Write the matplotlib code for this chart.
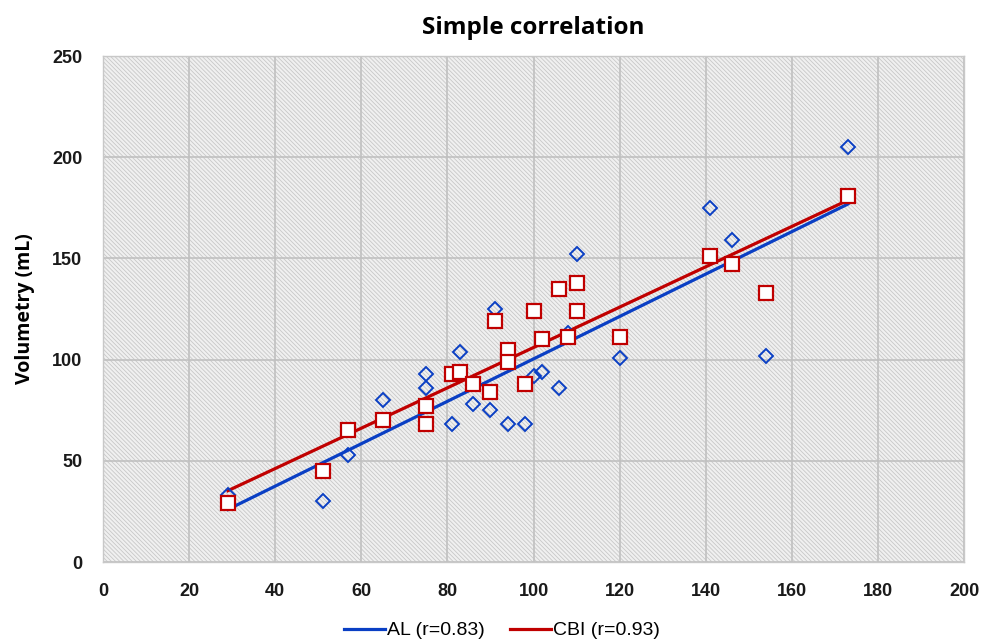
import matplotlib.pyplot as plt
from matplotlib.patches import Rectangle
import numpy as np

# Data
x_al = [29, 51, 57, 65, 75, 75, 81, 83, 86, 90, 91, 94, 98, 100, 102, 106, 108, 110, 120, 141, 146, 154, 173]
vol_al = [33, 30, 53, 80, 93, 86, 68, 104, 78, 75, 125, 68, 68, 92, 94, 86, 113, 152, 101, 175, 159, 102, 205]

x_cbi = [29, 51, 57, 65, 75, 75, 81, 83, 86, 90, 91, 94, 94, 98, 100, 102, 106, 108, 110, 110, 120, 141, 146, 154, 173]
vol_cbi = [29, 45, 65, 70, 77, 68, 93, 94, 88, 84, 119, 105, 99, 88, 124, 110, 135, 111, 138, 124, 111, 151, 147, 133, 181]

labels = ['AL (r=0.83)', 'CBI (r=0.93)']
blue = '#0a3fc4'
red = '#c00000'

plt.rcParams['hatch.linewidth'] = 0.6

fig = plt.figure(figsize=(9.84, 6.44), dpi=100)
ax = fig.add_axes([0.1047, 0.1273, 0.8750, 0.7857])
ax.set_facecolor('#f0f0f0')
# hatched plot area background
ax.add_patch(Rectangle((0, 0), 1, 1, transform=ax.transAxes, facecolor='#f0f0f0',
                       edgecolor='#c8c8c8', hatch='\\' * 8, lw=0, zorder=0.5))

# trend lines (least squares)
for xs, ys, col, lab in [(x_al, vol_al, blue, labels[0]), (x_cbi, vol_cbi, red, labels[1])]:
    k, b = np.polyfit(xs, ys, 1)
    xx = np.array([min(xs), max(xs)])
    ax.plot(xx, k * xx + b, color=col, lw=2.3, label=lab, zorder=3)

ax.plot(x_al, vol_al, 'D', ms=7, mfc='none', mec=blue, mew=1.4, zorder=4)
ax.plot(x_cbi, vol_cbi, 's', ms=10, mfc='white', mec=red, mew=1.6, zorder=5)

ax.set_xlim(0, 200)
ax.set_ylim(0, 250)
ax.set_xticks(np.arange(0, 201, 20))
ax.set_yticks(np.arange(0, 251, 50))
ax.grid(color='#c0c0c0', lw=1.2, zorder=1)
for s in ax.spines.values():
    s.set_color('#c8c8c8')
    s.set_linewidth(1)
ax.tick_params(length=0, pad=15, labelsize=13)
for t in ax.get_xticklabels() + ax.get_yticklabels():
    t.set_fontfamily('Liberation Sans')
    t.set_fontweight('bold')
    t.set_color('#1a1a1a')

ax.set_title('Simple correlation', fontfamily='Open Sans', fontweight='bold', fontsize=17.5, pad=16)
ax.set_ylabel('Volumetry (mL)', fontfamily='Open Sans', fontweight='bold', fontsize=14, labelpad=12)

fig.legend(loc='lower center', bbox_to_anchor=(0.51, -0.02), ncol=2, frameon=False,
           prop={'family': 'Liberation Sans', 'size': 14}, handlelength=2.1, columnspacing=1.3,
           handletextpad=0.1)

plt.savefig('out.png', dpi=100)
